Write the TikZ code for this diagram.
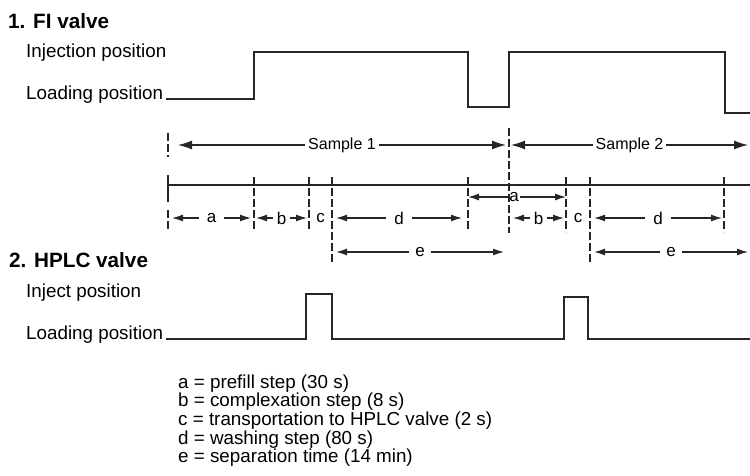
\documentclass[tikz,border=0pt]{standalone}
\usepackage{fontspec}
\setmainfont{Liberation Sans}
\usetikzlibrary{calc,arrows.meta}

\begin{document}
\begin{tikzpicture}[x=1pt,y=-1pt, line cap=butt, line join=miter]

% ---------- styles ----------
\tikzset{
  trace/.style={draw=black!85, line width=1.5pt},
  axis/.style={draw=black!85, line width=1.3pt},
  tickline/.style={draw=black!85, line width=1.3pt, dash pattern=on 8pt off 3pt},
  span/.style={draw=black!85, line width=1.3pt,
    {Latex[length=11pt,width=7pt]}-{Latex[length=11pt,width=7pt]}},
  bigspan/.style={draw=black!85, line width=1.3pt,
    {Latex[length=14pt,width=9pt]}-{Latex[length=14pt,width=9pt]}},
  heading/.style={font=\bfseries\fontsize{20.7}{24}\selectfont, anchor=base west, inner sep=0pt},
  plabel/.style={font=\fontsize{18.8}{22}\selectfont, anchor=base west, inner sep=0pt},
  slabel/.style={font=\fontsize{16}{19}\selectfont, fill=white, inner ysep=1pt, inner xsep=5pt},
  rlabel/.style={font=\fontsize{17}{20}\selectfont, fill=white, inner ysep=1pt},
  clabel/.style={font=\fontsize{17}{20}\selectfont, inner sep=1pt},
  legline/.style={font=\fontsize{18.8}{22}\selectfont, anchor=base west, inner sep=0pt},
}

\useasboundingbox (0,0) rectangle (750,475);

% ---------- time marks (x) ----------
\coordinate (t0)   at (168,185);
\coordinate (t1)   at (254,185);
\coordinate (t2)   at (309,185);
\coordinate (t3)   at (332,185);
\coordinate (t4)   at (468,185);
\coordinate (t5)   at (509,185);
\coordinate (t6)   at (566,185);
\coordinate (t7)   at (590,185);
\coordinate (t8)   at (724,185);
\coordinate (tend) at (750,185);

% ---------- levels (y) ----------
\coordinate (fiHi)  at (0,52);
\coordinate (fiDip) at (0,107);
\coordinate (fiEnd) at (0,113);
\coordinate (sampY) at (0,145);
\coordinate (tickY) at (0,177);
\coordinate (rowA)  at (0,197);
\coordinate (rowY)  at (0,218);
\coordinate (rowB)  at (0,230);
\coordinate (eY)    at (0,252);
\coordinate (eB)    at (0,262);

% ---------- 1. FI valve ----------
\node[heading] (hfi)  at (8,28)  {1. FI valve};
\node[plabel]  (linj) at (26,57) {Injection position};
\node[plabel]  (lfi)  at (26,99) {Loading position};

\draw[trace] (lfi.base east) ++(3,0) -| (t1 |- fiHi) -| (t4 |- fiDip)
  -| (t5 |- fiHi) -| (725,113) -- (tend |- fiEnd);

% ---------- samples ----------
\draw[bigspan] ($(t0 |- sampY)+(10,0)$) -- ($(t5 |- sampY)+(-3,0)$)
  node[slabel, midway, inner xsep=3pt] (s1) {Sample 1};
\draw[bigspan] ($(t5 |- sampY)+(2,0)$) -- ($(tend |- sampY)+(-2,0)$)
  node[slabel, midway, inner xsep=3pt] (s2) {Sample 2};

% ---------- time axis ----------
\draw[axis] (t0) -- (tend);

% step spans
\draw[span] ($(t0 |- rowY)+(4,0)$) -- ($(t1 |- rowY)+(-3,0)$)
  node[rlabel, midway, inner xsep=8pt] (a1) {a};
\draw[span] ($(t1 |- rowY)+(2,0)$) -- ($(t2 |- rowY)+(-2,0)$)
  node[rlabel, midway, inner xsep=4pt] (b1) {b};
\node[clabel] (c1) at ($(t2 |- rowY)!0.5!(t3 |- rowY)$) {c};
\draw[span] ($(t3 |- rowY)+(4,0)$) -- ($(t4 |- rowY)+(-6,0)$)
  node[rlabel, midway, inner xsep=8pt] (d1) {d};
\draw[span] ($(t3 |- eY)+(4,0)$) -- ($(t5 |- eY)+(-5,0)$)
  node[rlabel, midway, inner xsep=6pt] (e1) {e};

\draw[span] (t4 |- rowA) -- (t6 |- rowA)
  node[rlabel, pos=0.47, inner xsep=1pt] (a2) {a};
\draw[span] ($(t5 |- rowY)+(4,0)$) -- ($(t6 |- rowY)+(-2,0)$)
  node[rlabel, midway, inner xsep=4pt] (b2) {b};
\node[clabel] (c2) at ($(t6 |- rowY)!0.5!(t7 |- rowY)$) {c};
\draw[span] ($(t7 |- rowY)+(4,0)$) -- ($(t8 |- rowY)+(-2,0)$)
  node[rlabel, midway, inner xsep=8pt] (d2) {d};
\draw[span] ($(t7 |- eY)+(4,0)$) -- ($(tend |- eY)+(-2,0)$)
  node[rlabel, midway, inner xsep=6pt] (e2) {e};

% ticks
\draw[axis] ($(t0)+(0,-10)$) -- ($(t0)+(0,17)$);
\draw[tickline] (t0 |- 0,133) -- (t0 |- 0,157);
\draw[tickline] (t0 |- 0,210) -- (t0 |- rowB);
\foreach \t in {t1,t2,t4}
  \draw[tickline] (\t |- tickY) -- (\t |- rowB);
\foreach \t in {t6,t8}
  \draw[tickline] (\t |- tickY) -- (\t |- 0,232);
\foreach \t in {t3,t7}
  \draw[tickline] (\t |- tickY) -- (\t |- eB);
\draw[tickline] (t5 |- 0,128) -- (t5 |- 0,233);

% ---------- 2. HPLC valve ----------
\node[heading] (hhp)   at (9,267)  {2. HPLC valve};
\node[plabel]  (linjh) at (26,297) {Inject position};
\node[plabel]  (lhp)   at (26,339) {Loading position};

\draw[trace] (lhp.base east) ++(3,0) -| (306,294) -| (332,339)
  -| (564,297) -| (588,339) -- (750,339);

% ---------- legend ----------
\foreach \txt [count=\i from 0] in {a = prefill step (30 s),
    b = complexation step (8 s),
    c = transportation to HPLC valve (2 s),
    d = washing step (80 s),
    e = separation time (14 min)}
  \node[legline] (leg\i) at (178,388+18.7*\i) {\txt};

\end{tikzpicture}
\end{document}
